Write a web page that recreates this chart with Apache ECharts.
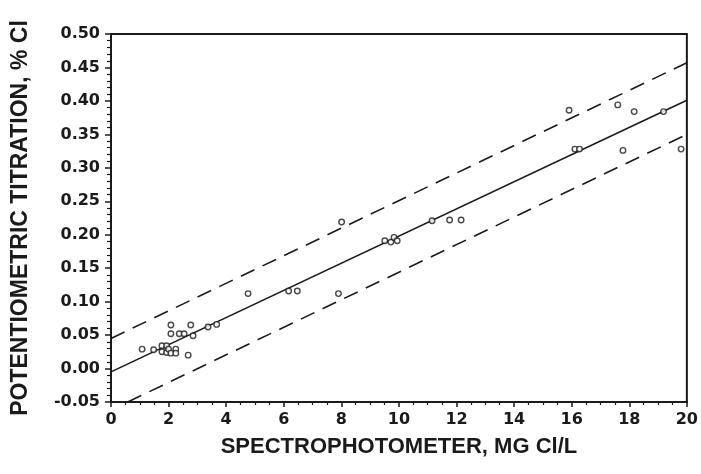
<!DOCTYPE html>
<html>
<head>
<meta charset="utf-8">
<script src="https://cdn.jsdelivr.net/npm/echarts@6/dist/echarts.min.js"></script>
<style>
html,body{margin:0;padding:0;background:#fff;}
#chart{width:701px;height:474px;}
</style>
</head>
<body>
<div id="chart"></div>
<script>
// Data
const spectro = [1.08,1.48,1.77,1.77,1.93,1.93,2.0,2.25,2.08,2.25,2.08,2.08,2.37,2.54,2.77,2.85,2.68,3.37,3.67,4.76,6.17,6.47,7.9,8.01,9.51,9.72,9.83,9.94,11.15,11.76,12.16,15.91,17.6,18.17,19.19,16.11,16.27,17.78,19.8];
const titration = [0.029,0.028,0.034,0.025,0.034,0.024,0.029,0.029,0.023,0.023,0.065,0.052,0.052,0.052,0.065,0.049,0.020,0.062,0.066,0.112,0.116,0.116,0.112,0.219,0.191,0.189,0.196,0.191,0.221,0.222,0.222,0.386,0.394,0.384,0.384,0.328,0.328,0.326,0.328];
const fitX = [0, 20];
const fitY = [-0.005, 0.401];
const upperX = [0, 20];
const upperY = [0.045, 0.457];
const lowerX = [0.58, 20];
const lowerY = [-0.05, 0.35];
const xName = 'SPECTROPHOTOMETER, MG Cl/L';
const yName = 'POTENTIOMETRIC TITRATION, % Cl';

const pts = spectro.map((x, i) => [x, titration[i]]);
const zip = (a, b) => a.map((v, i) => [v, b[i]]);
const ink = '#1a1a1a';

const chart = echarts.init(document.getElementById('chart'), null, {renderer: 'canvas'});
chart.setOption({
  backgroundColor: '#fff',
  animation: false,
  grid: {left: 111, right: 11, top: 34, bottom: 72, show: true, borderColor: ink, borderWidth: 2, backgroundColor: 'transparent'},
  xAxis: {
    type: 'value', min: 0, max: 20, interval: 2,
    name: xName, nameLocation: 'middle', nameGap: 34,
    nameTextStyle: {fontFamily: 'Liberation Sans', fontWeight: 'bold', fontSize: 22, color: ink},
    axisLine: {onZero: false, lineStyle: {color: ink, width: 2}},
    axisTick: {show: true, inside: false, length: 5, lineStyle: {color: ink, width: 1.5}},
    minorTick: {show: true, splitNumber: 4, length: 3, lineStyle: {color: ink, width: 1.2}},
    splitLine: {show: false},
    axisLabel: {margin: 10, fontFamily: 'DejaVu Sans', fontWeight: 'bold', fontSize: 16, color: ink}
  },
  yAxis: {
    type: 'value', min: -0.05, max: 0.5, interval: 0.05,
    name: yName, nameLocation: 'middle', nameGap: 79, nameRotate: 90,
    nameTextStyle: {fontFamily: 'Liberation Sans', fontWeight: 'bold', fontSize: 23, color: ink},
    axisLine: {onZero: false, lineStyle: {color: ink, width: 2}},
    axisTick: {show: true, inside: false, length: 6, lineStyle: {color: ink, width: 1.5}},
    minorTick: {show: true, splitNumber: 5, length: 4, lineStyle: {color: ink, width: 1.2}},
    splitLine: {show: false},
    axisLabel: {margin: 11, fontFamily: 'DejaVu Sans', fontWeight: 'bold', fontSize: 16, color: ink,
      formatter: v => (Math.abs(v) < 1e-9 ? 0 : v).toFixed(2)}
  },
  series: [
    {type: 'line', data: zip(fitX, fitY), symbol: 'none', lineStyle: {color: ink, width: 1.6}, z: 2},
    {type: 'line', data: zip(upperX, upperY), symbol: 'none', lineStyle: {color: ink, width: 1.6, type: [15, 9]}, z: 2},
    {type: 'line', data: zip(lowerX, lowerY), symbol: 'none', lineStyle: {color: ink, width: 1.6, type: [15, 9]}, z: 2},
    {type: 'scatter', data: pts, symbol: 'circle', symbolSize: 5.5,
      itemStyle: {color: '#fff', borderColor: ink, borderWidth: 1.4}, z: 3}
  ]
});
</script>
</body>
</html>
